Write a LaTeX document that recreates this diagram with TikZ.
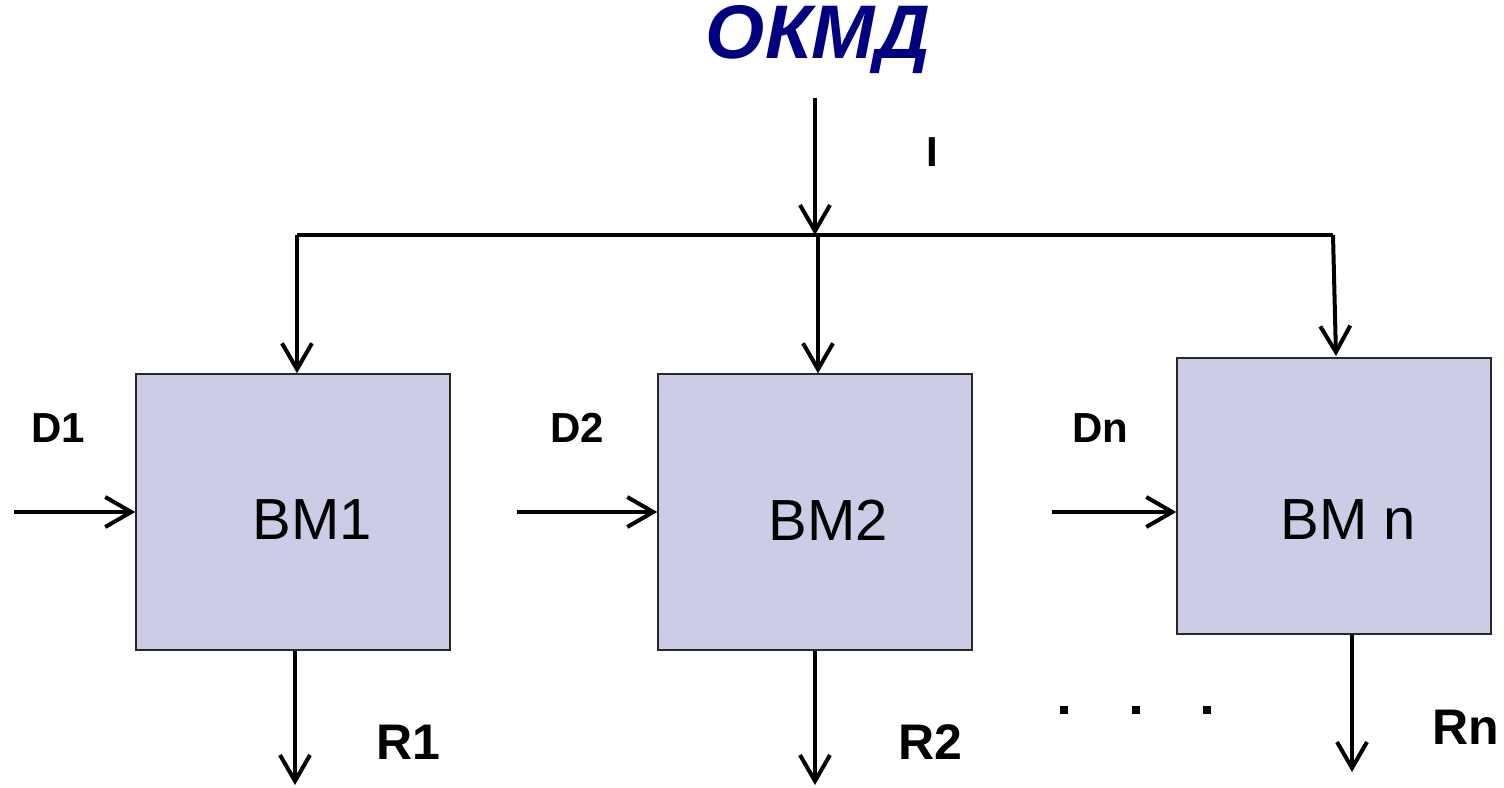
\documentclass[tikz,border=0pt]{standalone}
\usepackage{fontspec}
\setmainfont{Liberation Sans}
\usetikzlibrary{arrows.meta}
\definecolor{boxfill}{RGB}{204,204,230}
\definecolor{boxline}{RGB}{40,40,40}
\definecolor{titleblue}{RGB}{0,0,128}
\tikzset{
  bm/.style={draw=boxline, line width=1.5pt, fill=boxfill, minimum width=314pt, minimum height=276pt, inner sep=0pt},
  bmtext/.style={font=\fontsize{58}{60}\selectfont, inner sep=0pt},
  sig/.style={line width=4pt, -{Straight Barb[length=26pt,width=30pt]}},
  bus/.style={line width=4pt},
  lblD/.style={font=\fontsize{42}{44}\selectfont\bfseries, inner sep=0pt},
  lblR/.style={font=\fontsize{50}{52}\selectfont\bfseries, inner sep=0pt},
  dotsq/.style={fill=black, minimum size=8pt, inner sep=0pt},
}
\begin{document}
\begin{tikzpicture}[x=1pt,y=-1pt]
\useasboundingbox (0,0) rectangle (1504,787);
% title
\node[font=\fontsize{76}{78}\selectfont\bfseries\itshape, text=titleblue, inner sep=0pt] (title) at (818,40) {ОКМД};
\node[lblD] (I) at (932,152) {I};
% boxes
\node[bm] (bm1) at (293,512) {};
\node[bm] (bm2) at (815,512) {};
\node[bm] (bmn) at (1334,496) {};
\node[bmtext] (t1) at (312,520) {BM1};
\node[bmtext] (t2) at (828,520) {BM2};
\node[bmtext] (tn) at (1348,520) {BM n};
% bus
\coordinate (top) at (815,98);
\coordinate (j) at (815,235);
\coordinate (bl) at (297,235);
\coordinate (bm) at (818,235);
\coordinate (br) at (1333,235);
\draw[sig] (top) -- (j);
\draw[bus] (bl) -- (br);
\draw[sig] (bl) -- (bl |- bm1.north);
\draw[sig] (bm) -- (bm |- bm2.north);
\draw[sig, line join=miter] (br) -- (1336,356);
% inputs
\coordinate (in1) at (14,512);
\coordinate (in2) at (517,512);
\coordinate (inn) at (1052,512);
\draw[sig] (in1) -- (bm1.west);
\draw[sig] (in2) -- (bm2.west);
\draw[sig] (inn) -- (bmn.west |- inn);
\node[lblD] (D1) at (58,428) {D1};
\node[lblD] (D2) at (577,428) {D2};
\node[lblD] (Dn) at (1100,428) {Dn};
% outputs
\coordinate (o1) at (295,785);
\coordinate (o2) at (815,785);
\coordinate (on) at (1352,772);
\draw[sig] (o1 |- bm1.south) -- (o1);
\draw[sig] (o2 |- bm2.south) -- (o2);
\draw[sig] (on |- bmn.south) -- (on);
\node[lblR] (R1) at (408,742) {R1};
\node[lblR] (R2) at (930,742) {R2};
\node[lblR] (Rn) at (1466,727) {Rn};
% dots
\node[dotsq] (d1) at (1064,710) {};
\node[dotsq] (d2) at (1136,710) {};
\node[dotsq] (d3) at (1207,710) {};
\end{tikzpicture}
\end{document}
